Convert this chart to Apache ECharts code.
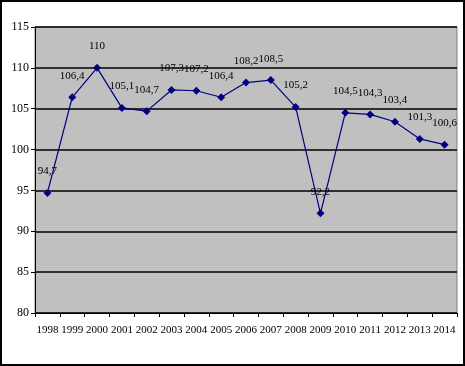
<!DOCTYPE html>
<html>
<head>
<meta charset="utf-8">
<script src="https://cdn.jsdelivr.net/npm/echarts@6/dist/echarts.min.js"></script>
<style>
  body { margin: 0; background: #fff; }
  #wrap { position: relative; width: 465px; height: 366px; }
  #chart { width: 465px; height: 366px; }
  .frame { position: absolute; left: 0; top: 0; width: 465px; height: 366px; box-sizing: border-box; border: 2px solid #000; pointer-events: none; }
</style>
</head>
<body>
<div id="wrap">
  <div id="chart"></div>
  <div class="frame"></div>
</div>
<script>
var years = ["1998", "1999", "2000", "2001", "2002", "2003", "2004", "2005", "2006",
  "2007", "2008", "2009", "2010", "2011", "2012", "2013", "2014"];
var values = [94.7, 106.4, 110, 105.1, 104.7, 107.3, 107.2, 106.4, 108.2,
  108.5, 105.2, 92.2, 104.5, 104.3, 103.4, 101.3, 100.6];

var myChart = echarts.init(document.getElementById("chart"));
var serif = "Liberation Serif";

var option = {
  animation: false,
  grid: {
    left: 35,
    top: 27,
    width: 422,
    height: 286,
    show: true,
    backgroundColor: "#c0c0c0",
    borderColor: "#808080",
    borderWidth: 1,
  },
  xAxis: {
    type: "category",
    data: years,
    boundaryGap: true,
    axisLine: { lineStyle: { color: "#000", width: 1 } },
    axisTick: { show: true, length: 4, lineStyle: { color: "#000" } },
    axisLabel: { color: "#000", fontFamily: serif, fontSize: 11, margin: 12, interval: 0 },
  },
  yAxis: {
    type: "value",
    min: 80,
    max: 115,
    interval: 5,
    axisLine: { show: true, lineStyle: { color: "#000", width: 1 } },
    axisTick: { show: true, length: 4, lineStyle: { color: "#000" } },
    axisLabel: { color: "#000", fontFamily: serif, fontSize: 12, margin: 6 },
    splitLine: { show: true, lineStyle: { color: "#000", width: 1.5 } },
  },
  series: [
    {
      type: "line",
      data: values,
      symbol: "diamond",
      symbolSize: 8,
      lineStyle: { color: "#000080", width: 1.2 },
      itemStyle: { color: "#000080" },
      label: {
        show: true,
        position: "top",
        distance: 12,
        color: "#000",
        fontFamily: serif,
        fontSize: 11,
        formatter: function (p) {
          return String(p.value).replace(".", ",");
        },
      },
    },
  ],
};

myChart.setOption(option);
</script>
</body>
</html>
